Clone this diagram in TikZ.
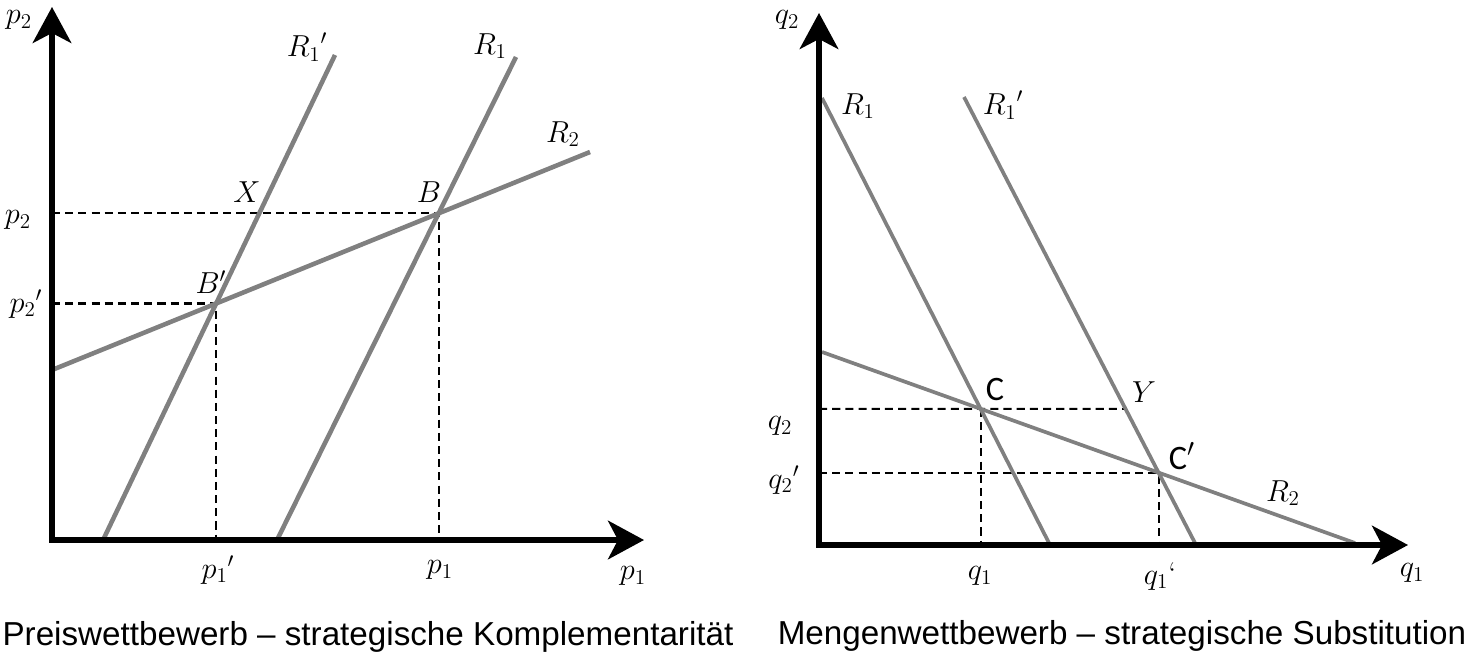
\documentclass[tikz,border=0pt]{standalone}
\usepackage{fontspec}
\newfontfamily\capfont{Liberation Sans}
\newfontfamily\cfont{Carlito}
\usetikzlibrary{arrows.meta,calc}
\definecolor{curvegray}{RGB}{128,128,128}
\begin{document}
\begin{tikzpicture}[x=0.02cm,y=-0.02cm,
  axis/.style={line width=2.9pt, line join=miter,
    {Stealth[length=20.5pt,width=22pt,inset=5.7pt]}-{Stealth[length=20.5pt,width=22pt,inset=5.7pt]}},
  curveL/.style={line width=2.6pt, draw=curvegray},
  curveR/.style={line width=2.1pt, draw=curvegray},
  guide/.style={line width=1.15pt, dash pattern=on 4.6pt off 2.9pt},
  lbl/.style={inner sep=0pt, font=\fontsize{18}{21}\selectfont},
  captext/.style={inner sep=0pt, font=\capfont\fontsize{18.9}{22}\selectfont},
  clab/.style={inner sep=0pt, font=\cfont\fontsize{19.5}{22}\selectfont}]
\useasboundingbox (0,0) rectangle (1476,662);

% ---------------- left diagram ----------------
\coordinate (L-o) at (52,540);
\coordinate (L-ytip) at (52,7);
\coordinate (L-xtip) at (644,540);
\coordinate (L-r1pa) at (104,538);
\coordinate (L-r1pb) at (335,55);
\coordinate (L-r1a) at (278,538);
\coordinate (L-r1b) at (516,57);
\coordinate (L-r2a) at (52,370);
\coordinate (L-r2b) at (590,152);
\coordinate (L-B) at (intersection of L-r1a--L-r1b and L-r2a--L-r2b);
\coordinate (L-Bp) at (intersection of L-r1pa--L-r1pb and L-r2a--L-r2b);

\draw[guide] (L-B -| L-o) -- (L-B) -- (L-B |- L-o);
\draw[guide] (L-Bp -| L-o) -- (L-Bp) -- (L-Bp |- L-o);
\draw[curveL] (L-r1pa) -- (L-r1pb);
\draw[curveL] (L-r1a) -- (L-r1b);
\draw[curveL] (L-r2a) -- (L-r2b);
\draw[axis] (L-ytip) -- (L-o) -- (L-xtip);

\node[lbl] (L-ylab) at (19,20) {$p_2$};
\node[lbl] (L-R1p) at (307,47) {${R_1}'$};
\node[lbl] (L-R1) at (490,46) {$R_1$};
\node[lbl] (L-R2) at (563,134) {$R_2$};
\node[lbl] (L-X) at (247,192) {$X$};
\node[lbl] (L-Blab) at (429,192) {$B$};
\node[lbl] (L-Bplab) at (211,282) {$B'$};
\node[lbl] (L-p2) at (18,220) {$p_2$};
\node[lbl] (L-p2p) at (26,304) {${p_2}'$};
\node[lbl] (L-p1p) at (218,570) {${p_1}'$};
\node[lbl] (L-p1) at (440,570) {$p_1$};
\node[lbl] (L-xlab) at (633,576) {$p_1$};
\node[captext] (L-cap) at (368,637) {Preiswettbewerb – strategische Komplementarität};

% ---------------- right diagram ----------------
\coordinate (R-o) at (819,545);
\coordinate (R-ytip) at (819,13);
\coordinate (R-xtip) at (1408,545);
\coordinate (R-r1a) at (822,98);
\coordinate (R-r1b) at (1049,543);
\coordinate (R-r1pa) at (964,97);
\coordinate (R-r1pb) at (1195,543);
\coordinate (R-r2a) at (822,352);
\coordinate (R-r2b) at (1355,543);
\coordinate (R-C) at (intersection of R-r1a--R-r1b and R-r2a--R-r2b);
\coordinate (R-Cp) at (intersection of R-r1pa--R-r1pb and R-r2a--R-r2b);
\coordinate (R-Ch) at ($(R-C)+(100,0)$);
\coordinate (R-Y) at (intersection of R-r1pa--R-r1pb and R-C--R-Ch);

\draw[guide] (R-C -| R-o) -- (R-Y);
\draw[guide] (R-C) -- (R-C |- R-o);
\draw[guide] (R-Cp -| R-o) -- (R-Cp) -- (R-Cp |- R-o);
\draw[curveR] (R-r1a) -- (R-r1b);
\draw[curveR] (R-r1pa) -- (R-r1pb);
\draw[curveR] (R-r2a) -- (R-r2b);
\draw[axis] (R-ytip) -- (R-o) -- (R-xtip);

\node[lbl] (R-ylab) at (787,20) {$q_2$};
\node[lbl] (R-R1) at (858,106) {$R_1$};
\node[lbl] (R-R1p) at (1003,105) {${R_1}'$};
\node[lbl] (R-R2) at (1283,493) {$R_2$};
\node[clab] (R-Clab) at (995,389) {C};
\node[clab] (R-Cplab) at (1182,456) {C$'$};
\node[lbl] (R-Ylab) at (1144,392) {$Y$};
\node[lbl] (R-q2) at (780,426) {$q_2$};
\node[lbl] (R-q2p) at (784,480) {${q_2}'$};
\node[lbl] (R-q1) at (980,576) {$q_1$};
\node[lbl] (R-q1p) at (1160,576) {$q_1$\textquoteleft};
\node[lbl] (R-xlab) at (1412,573) {$q_1$};
\node[captext] (R-cap) at (1122,636) {Mengenwettbewerb – strategische Substitution};
\end{tikzpicture}
\end{document}
